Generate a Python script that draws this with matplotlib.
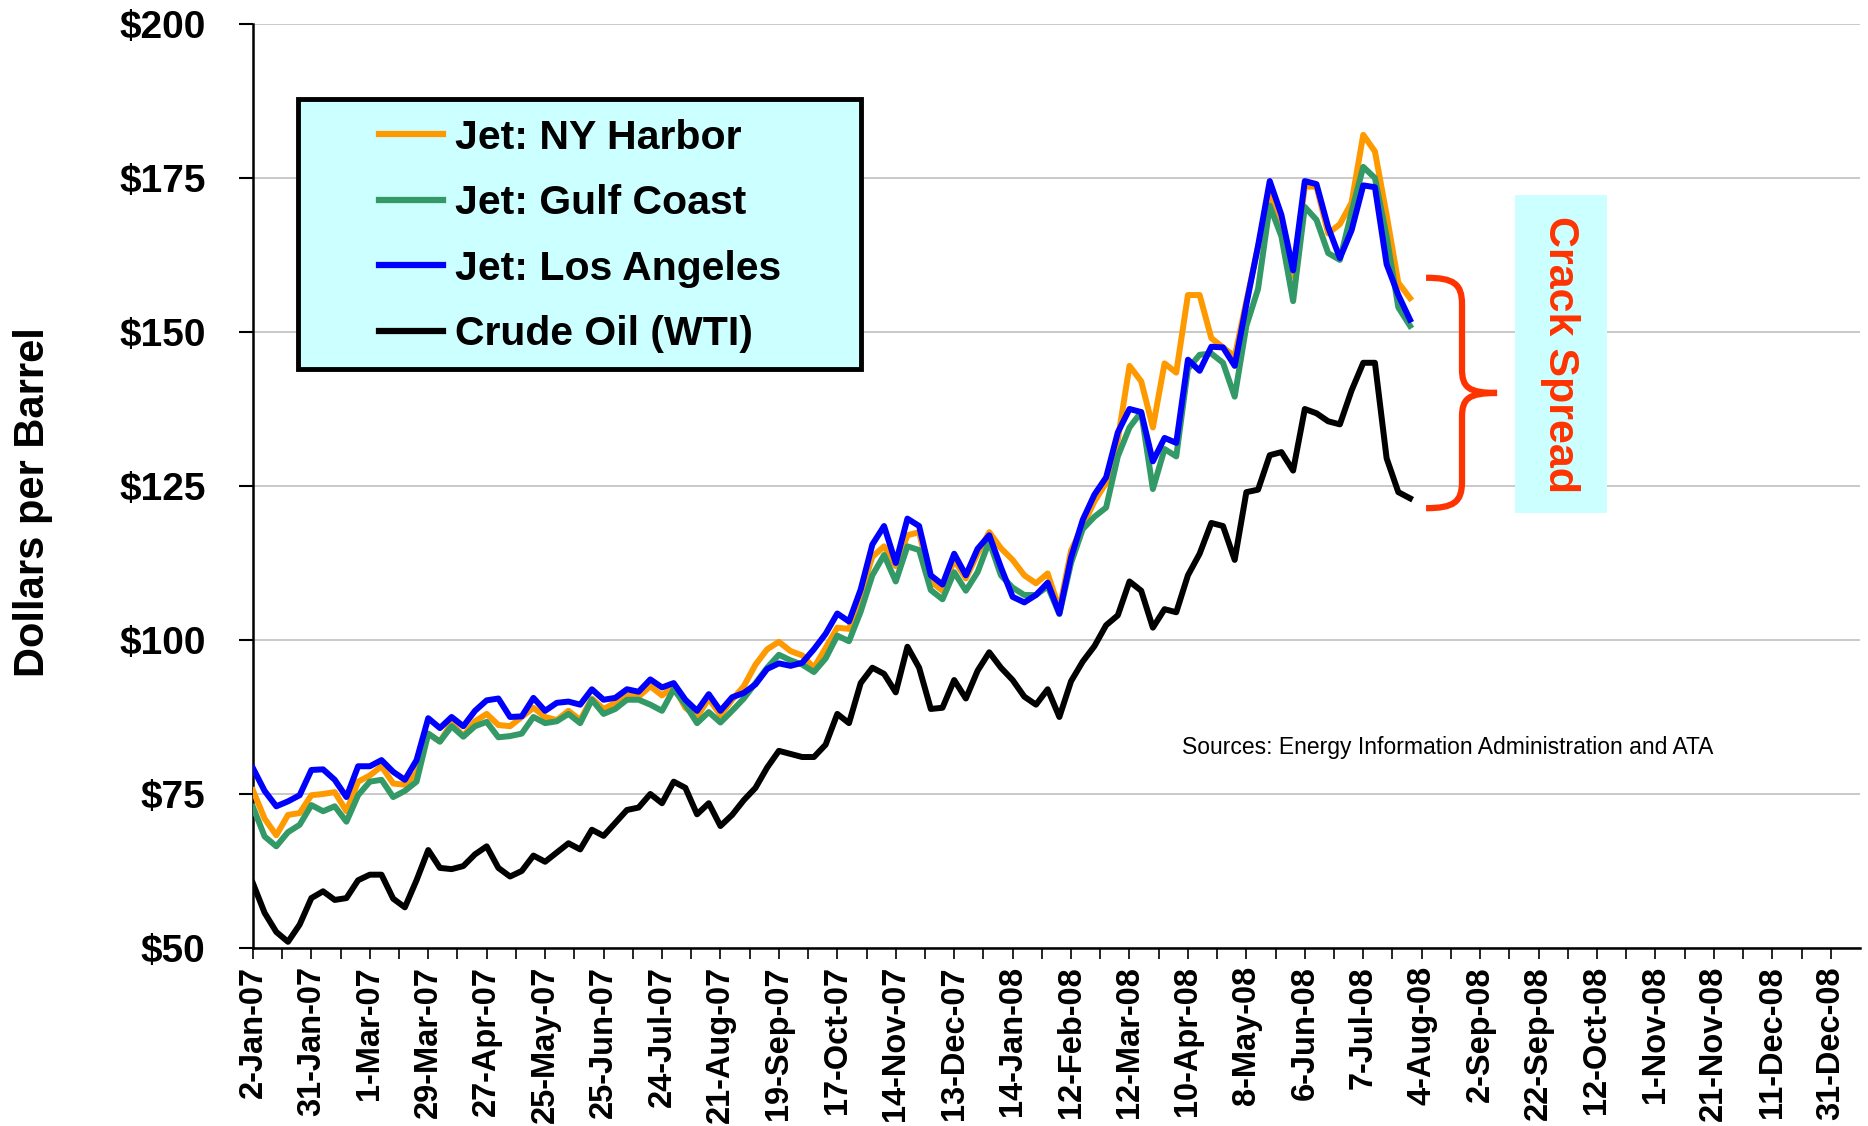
import numpy as np
import matplotlib
matplotlib.use("Agg")
import matplotlib.pyplot as plt
from matplotlib.path import Path
from matplotlib.patches import PathPatch, Rectangle

plt.rcParams['font.family'] = ['Liberation Sans', 'DejaVu Sans']

# trading-day index of each sample (every 4th trading day from 2-Jan-07)
days = np.arange(0, 397, 4)

jet_ny = [75.6, 71.0, 68.3, 71.6, 71.9, 74.8, 75.0, 75.3, 72.2, 77.0,
          78.0, 79.5, 76.7, 76.5, 78.4, 84.8, 83.5, 86.5, 84.4, 86.8,
          88.0, 86.2, 86.0, 87.5, 89.0, 87.5, 87.0, 88.5, 87.0, 90.5,
          88.8, 89.8, 91.0, 90.8, 92.5, 91.0, 92.5, 89.0, 87.5, 90.5,
          87.8, 90.3, 92.5, 96.0, 98.5, 99.7, 98.2, 97.5, 95.5, 98.7,
          102.0, 101.8, 107.5, 113.5, 115.2, 112.0, 117.0, 117.5, 109.5, 108.0,
          113.0, 110.0, 114.0, 117.5, 114.9, 113.0, 110.5, 109.2, 110.8, 105.0,
          114.5, 118.5, 122.5, 125.5, 132.5, 144.5, 142.0, 134.5, 144.9, 143.4,
          156.0, 156.0, 149.0, 147.5, 146.0, 155.0, 163.8, 172.5, 166.0, 159.0,
          173.6, 173.6, 166.0, 167.5, 171.0, 182.0, 179.3, 169.0, 158.0, 155.5]

jet_gulf = [72.9, 68.1, 66.5, 68.8, 70.0, 73.2, 72.2, 73.0, 70.5, 74.8,
            77.0, 77.3, 74.5, 75.5, 77.0, 84.8, 83.5, 86.0, 84.3, 86.0,
            86.7, 84.2, 84.4, 84.8, 87.5, 86.5, 86.8, 88.0, 86.5, 90.3,
            88.0, 88.8, 90.3, 90.3, 89.5, 88.5, 92.0, 89.5, 86.5, 88.3,
            86.6, 88.5, 90.5, 93.0, 95.5, 97.6, 96.7, 96.0, 94.8, 97.0,
            100.7, 99.8, 104.6, 110.5, 113.8, 109.5, 115.2, 114.6, 108.1, 106.6,
            111.0, 108.0, 111.0, 116.0, 110.5, 108.5, 107.3, 107.3, 108.7, 104.2,
            112.5, 118.0, 120.0, 121.5, 129.8, 134.5, 137.0, 124.5, 131.0, 129.8,
            144.0, 146.3, 146.5, 145.0, 139.5, 151.0, 157.0, 170.5, 165.5, 155.0,
            170.3, 168.2, 162.8, 161.7, 169.5, 176.8, 175.0, 165.5, 154.0, 151.0]

jet_la = [79.2, 75.5, 73.0, 73.8, 74.8, 78.9, 79.0, 77.3, 74.5, 79.5,
          79.5, 80.5, 78.6, 77.3, 80.5, 87.3, 85.7, 87.5, 86.0, 88.5,
          90.2, 90.5, 87.5, 87.6, 90.6, 88.5, 89.8, 90.0, 89.5, 92.0,
          90.3, 90.6, 92.0, 91.6, 93.6, 92.3, 93.0, 90.3, 88.5, 91.2,
          88.5, 90.7, 91.4, 92.8, 95.3, 96.2, 95.8, 96.3, 98.5, 101.0,
          104.3, 103.0, 108.2, 115.5, 118.5, 112.5, 119.7, 118.5, 110.5, 109.0,
          114.0, 110.5, 114.8, 117.0, 111.8, 107.0, 106.1, 107.3, 109.3, 104.3,
          113.4, 119.5, 123.6, 126.4, 133.7, 137.5, 137.0, 129.0, 132.8, 132.0,
          145.5, 143.7, 147.6, 147.5, 144.5, 154.5, 164.0, 174.5, 169.0, 160.0,
          174.5, 174.0, 167.0, 162.0, 166.5, 173.8, 173.5, 161.0, 156.0, 152.0]

crude_wti = [60.5, 55.7, 52.6, 51.0, 53.8, 58.1, 59.2, 57.8, 58.1, 61.0,
             61.9, 61.9, 58.0, 56.6, 61.0, 65.9, 63.0, 62.8, 63.3, 65.2,
             66.5, 63.0, 61.6, 62.5, 65.0, 64.0, 65.5, 67.0, 66.0, 69.2,
             68.2, 70.3, 72.4, 72.8, 75.0, 73.5, 77.0, 76.0, 71.7, 73.5,
             69.8, 71.6, 74.0, 76.0, 79.3, 82.0, 81.5, 81.0, 81.0, 83.0,
             88.0, 86.5, 93.0, 95.5, 94.5, 91.5, 98.9, 95.5, 88.8, 89.0,
             93.5, 90.5, 95.0, 98.0, 95.5, 93.5, 90.8, 89.5, 92.0, 87.5,
             93.3, 96.5, 99.0, 102.4, 104.0, 109.5, 108.0, 102.0, 105.0, 104.5,
             110.5, 114.0, 119.0, 118.5, 113.0, 124.0, 124.4, 130.0, 130.5, 127.5,
             137.5, 136.8, 135.5, 135.0, 140.5, 145.0, 145.0, 129.5, 124.0, 123.0]

# labels every 20 trading days (later ones are every 20 calendar days)
date_labels = ['2-Jan-07', '31-Jan-07', '1-Mar-07', '29-Mar-07', '27-Apr-07',
               '25-May-07', '25-Jun-07', '24-Jul-07', '21-Aug-07', '19-Sep-07',
               '17-Oct-07', '14-Nov-07', '13-Dec-07', '14-Jan-08', '12-Feb-08',
               '12-Mar-08', '10-Apr-08', '8-May-08', '6-Jun-08', '7-Jul-08',
               '4-Aug-08', '2-Sep-08', '22-Sep-08', '12-Oct-08', '1-Nov-08',
               '21-Nov-08', '11-Dec-08', '31-Dec-08']
y_ticks = [50, 75, 100, 125, 150, 175, 200]

fig = plt.figure(figsize=(18.68, 11.26), dpi=100)
ax = fig.add_axes([0.1354, 0.1581, 0.8603, 0.8206])

lw = 4.3
ax.plot(days, jet_ny, color='#FF9900', lw=lw, label='Jet: NY Harbor', zorder=3)
ax.plot(days, jet_gulf, color='#339966', lw=lw, label='Jet: Gulf Coast', zorder=4)
ax.plot(days, jet_la, color='#0000FF', lw=lw, label='Jet: Los Angeles', zorder=5)
ax.plot(days, crude_wti, color='black', lw=lw, label='Crude Oil (WTI)', zorder=6)

ax.set_xlim(0, 550)
ax.set_ylim(50, 200)
ax.set_yticks(y_ticks)
ax.set_yticklabels(['$%d' % v for v in y_ticks], fontsize=28, fontweight='bold')
ticks = np.arange(0, 541, 10)
ax.set_xticks(ticks)
labs = []
for i, t in enumerate(ticks):
    labs.append(date_labels[i // 2] if i % 2 == 0 else '')
ax.set_xticklabels(labs, rotation=90, fontsize=23.5, fontweight='bold')
ax.tick_params(axis='y', direction='out', length=10, width=1.5, pad=24)
ax.tick_params(axis='x', direction='out', length=8, width=1.2, pad=5)

ax.grid(axis='y', color='#C0C0C0', lw=1.2, zorder=0)
ax.set_axisbelow(True)
for s in ['top', 'right']:
    ax.spines[s].set_visible(False)
ax.spines['left'].set_linewidth(1.8)
ax.spines['bottom'].set_linewidth(1.8)

fig.text(0.0177, 0.5545, 'Dollars per Barrel', rotation=90, ha='center', va='center',
         fontsize=30, fontweight='bold')

# legend box drawn separately to get the wide left margin
ax.add_patch(Rectangle((0.028, 0.6266), 0.3503, 0.2922, transform=ax.transAxes,
                       facecolor='#CCFFFF', edgecolor='black', lw=3.5, zorder=7))
leg = ax.legend(loc='upper left', bbox_to_anchor=(0.0787, 0.8975), frameon=False,
                borderaxespad=0, borderpad=0, labelspacing=0.67,
                handlelength=1.55, handletextpad=0.3,
                prop={'weight': 'bold', 'size': 29.5})
leg.set_zorder(8)
for h in leg.get_lines():
    h.set_linewidth(4.5)

# crack spread brace
verts = [(401.5, 158.8), (411, 158.8), (413.8, 157.8), (413.8, 154.5),
         (413.8, 144.0),
         (413.8, 141.0), (416, 140.1), (425.8, 140.1),
         (416, 140.1), (413.8, 139.2), (413.8, 136.2),
         (413.8, 125.7),
         (413.8, 122.4), (411, 121.4), (401.5, 121.4)]
codes = [Path.MOVETO, Path.CURVE4, Path.CURVE4, Path.CURVE4,
         Path.LINETO,
         Path.CURVE4, Path.CURVE4, Path.CURVE4,
         Path.CURVE4, Path.CURVE4, Path.CURVE4,
         Path.LINETO,
         Path.CURVE4, Path.CURVE4, Path.CURVE4]
ax.add_patch(PathPatch(Path(verts, codes), facecolor='none', edgecolor='#FF3300',
                       lw=4.5, zorder=7))
ax.add_patch(Rectangle((431.9, 120.6), 31.5, 51.6, facecolor='#CCFFFF',
                       edgecolor='none', zorder=7))
ax.text(447.5, 146.4, 'Crack Spread', rotation=-90, ha='center', va='center',
        color='#FF3300', fontsize=31, fontweight='bold', zorder=8)

ax.text(318, 82.5, 'Sources: Energy Information Administration and ATA',
        ha='left', va='center', fontsize=16.5, zorder=8)

fig.savefig('out.png', dpi=100)
